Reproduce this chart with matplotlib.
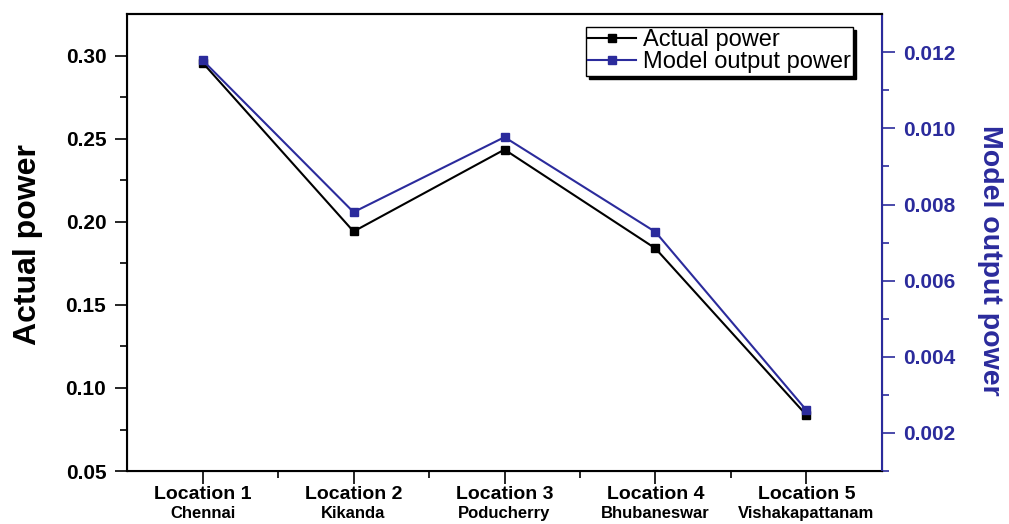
import matplotlib.pyplot as plt
import numpy as np

plt.rcParams['font.family'] = ['Liberation Sans', 'DejaVu Sans']

locations = ["Location 1", "Location 2", "Location 3", "Location 4", "Location 5"]
cities = ["Chennai", "Kikanda", "Poducherry", "Bhubaneswar", "Vishakapattanam"]
actual_power = [0.2958, 0.1942, 0.2435, 0.1840, 0.0837]
model_power = [0.01179, 0.00780, 0.00977, 0.00728, 0.00260]

blue = '#2b2b9c'
x = np.arange(1, len(locations) + 1)

fig = plt.figure(figsize=(10.09, 5.24), dpi=100)
ax = fig.add_axes([0.126, 0.101, 0.748, 0.872])
ax2 = ax.twinx()

l1, = ax.plot(x, actual_power, color='black', lw=1.5, marker='s', ms=6,
              label='Actual power')
l2, = ax2.plot(x, model_power, color=blue, lw=1.5, marker='s', ms=6,
               label='Model output power')

ax.set_xlim(0.5, 5.5)
ax.set_ylim(0.05, 0.325)
ax2.set_ylim(0.001, 0.013)

ax.set_yticks([0.05, 0.10, 0.15, 0.20, 0.25, 0.30])
ax.set_yticks(np.arange(0.075, 0.325, 0.05), minor=True)
ax.set_yticklabels(['0.05', '0.10', '0.15', '0.20', '0.25', '0.30'],
                   fontsize=15, fontweight='bold')
ax2.set_yticks([0.002, 0.004, 0.006, 0.008, 0.010, 0.012])
ax2.set_yticks(np.arange(0.001, 0.013, 0.002), minor=True)
ax2.set_yticklabels(['0.002', '0.004', '0.006', '0.008', '0.010', '0.012'],
                    fontsize=15, fontweight='bold', color=blue)

ax.set_xticks(x)
ax.set_xticks(np.arange(1.5, 5.5, 1.0), minor=True)
ax.set_xticklabels(locations, fontsize=14, fontweight='bold')
for xi, c in zip(x, cities):
    ax.text(xi, -0.076, c, transform=ax.get_xaxis_transform(), ha='center',
            va='top', fontsize=12, fontweight='bold')

ax.tick_params(which='major', direction='out', length=9, width=1.2, pad=6)
ax.tick_params(axis='x', which='major', pad=2)
ax.tick_params(which='minor', direction='out', length=5, width=1.2)
ax.tick_params(top=False, which='both')
ax2.tick_params(which='major', direction='out', length=9, width=1.2, color=blue, pad=6)
ax2.tick_params(which='minor', direction='out', length=5, width=1.2, color=blue)

for s in ['left', 'bottom', 'top']:
    ax.spines[s].set_linewidth(1.5)
ax2.spines['right'].set_color(blue)
ax2.spines['right'].set_linewidth(1.5)
ax2.spines['top'].set_linewidth(1.5)

ax.set_ylabel('Actual power', fontsize=23, fontweight='bold', va='center')
ax.yaxis.set_label_coords(-0.132, 0.495)
ax2.set_ylabel('Model output power', fontsize=20.5, fontweight='bold', color=blue,
               rotation=270, va='center')
ax2.yaxis.set_label_coords(1.143, 0.462)

leg = ax2.legend([l1, l2], ['Actual power', 'Model output power'],
                 loc='upper right', bbox_to_anchor=(0.9616, 0.9716),
                 fontsize=17, fancybox=False, shadow={'color': 'black', 'alpha': 1},
                 edgecolor='black', framealpha=1, handlelength=2.0,
                 borderpad=0.1, labelspacing=0.0, handletextpad=0.3,
                 borderaxespad=0)
leg.get_frame().set_linewidth(1.0)

fig.savefig('out.png', dpi=100)
